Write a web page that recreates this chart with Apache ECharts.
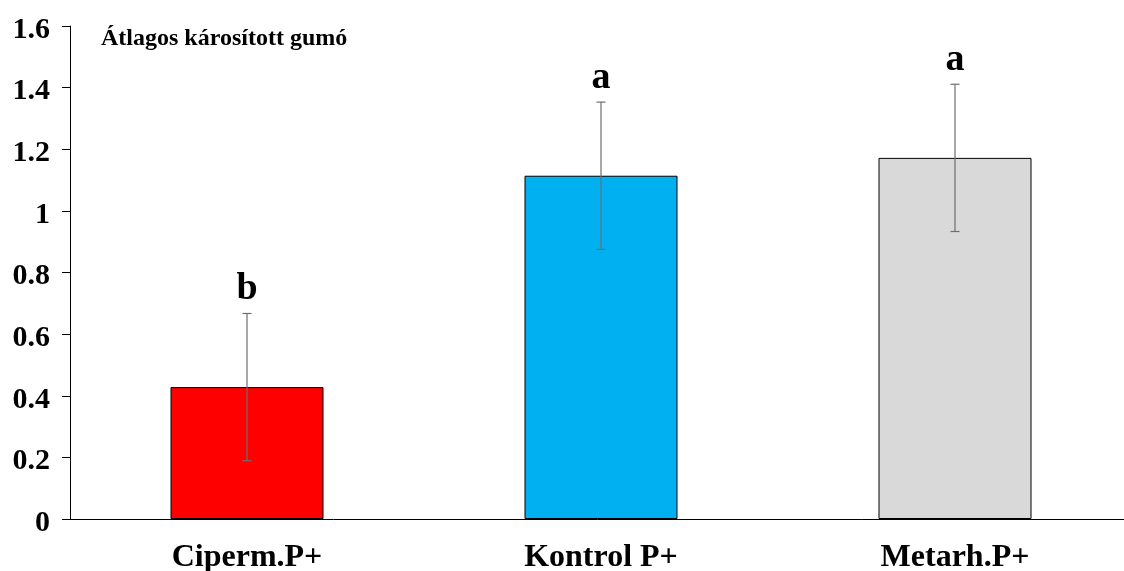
<!DOCTYPE html>
<html>
<head>
<meta charset="utf-8">
<script src="https://cdn.jsdelivr.net/npm/echarts@6/dist/echarts.min.js"></script>
<style>html,body{margin:0;padding:0;background:#fff;}#c{width:1124px;height:571px;}</style>
</head>
<body>
<div id="c"></div>
<script>
const categories = ['Ciperm.P+', 'Kontrol P+', 'Metarh.P+'];
const means = [0.428, 1.114, 1.172];
const errors = [0.239, 0.239, 0.239];
const letters = ['b', 'a', 'a'];
const barColors = ['#FF0000', '#00B0F0', '#D9D9D9'];
const yTicks = [0, 0.2, 0.4, 0.6, 0.8, 1, 1.2, 1.4, 1.6];
const titleText = 'Átlagos károsított gumó';

const serif = '"Liberation Serif", "Times New Roman", serif';
const chart = echarts.init(document.getElementById('c'), null, {renderer: 'canvas'});

const errData = categories.map((c, i) => [i, means[i] - errors[i], means[i] + errors[i], letters[i]]);

chart.setOption({
  animation: false,
  backgroundColor: '#fff',
  title: {
    text: titleText,
    left: 96,
    top: 22,
    textStyle: {fontFamily: serif, fontWeight: 'bold', fontSize: 24, color: '#000'}
  },
  grid: {left: 70, width: 1062, top: 26, bottom: 52, outerBoundsMode: 'none', containLabel: false},
  xAxis: {
    type: 'category',
    data: categories,
    axisLine: {lineStyle: {color: '#000', width: 1}},
    axisTick: {show: false},
    axisLabel: {fontFamily: serif, fontWeight: 'bold', fontSize: 32, color: '#000', margin: 23}
  },
  yAxis: {
    type: 'value',
    min: yTicks[0],
    max: yTicks[yTicks.length - 1],
    interval: 0.2,
    splitLine: {show: false},
    axisLine: {show: true, lineStyle: {color: '#000', width: 1}},
    axisTick: {show: true, length: 8, lineStyle: {color: '#000'}},
    axisLabel: {
      fontFamily: serif, fontWeight: 'bold', fontSize: 30, color: '#000', margin: 20,
      verticalAlign: 'top', lineHeight: 8,
      formatter: v => String(Math.round(v * 10) / 10)
    }
  },
  series: [
    {
      type: 'bar',
      barWidth: 153,
      data: means.map((v, i) => ({value: v, itemStyle: {color: barColors[i]}})),
      itemStyle: {borderColor: '#000', borderWidth: 1}
    },
    {
      type: 'custom',
      data: errData,
      z: 10,
      renderItem: function (params, api) {
        const x = api.value(0);
        const lo = api.coord([x, api.value(1)]);
        const hi = api.coord([x, api.value(2)]);
        const cap = 4.5;
        const st = {stroke: '#6E6E6E', lineWidth: 1.2};
        return {
          type: 'group',
          children: [
            {type: 'line', shape: {x1: hi[0], y1: hi[1], x2: lo[0], y2: lo[1]}, style: st},
            {type: 'line', shape: {x1: hi[0] - cap, y1: hi[1], x2: hi[0] + cap, y2: hi[1]}, style: st},
            {type: 'line', shape: {x1: lo[0] - cap, y1: lo[1], x2: lo[0] + cap, y2: lo[1]}, style: st},
            {type: 'text', style: {
              text: api.value(3), x: hi[0], y: hi[1] - 5,
              textAlign: 'center', textVerticalAlign: 'bottom',
              font: 'bold 38px ' + serif, fill: '#000'
            }}
          ]
        };
      }
    }
  ]
});
</script>
</body>
</html>
